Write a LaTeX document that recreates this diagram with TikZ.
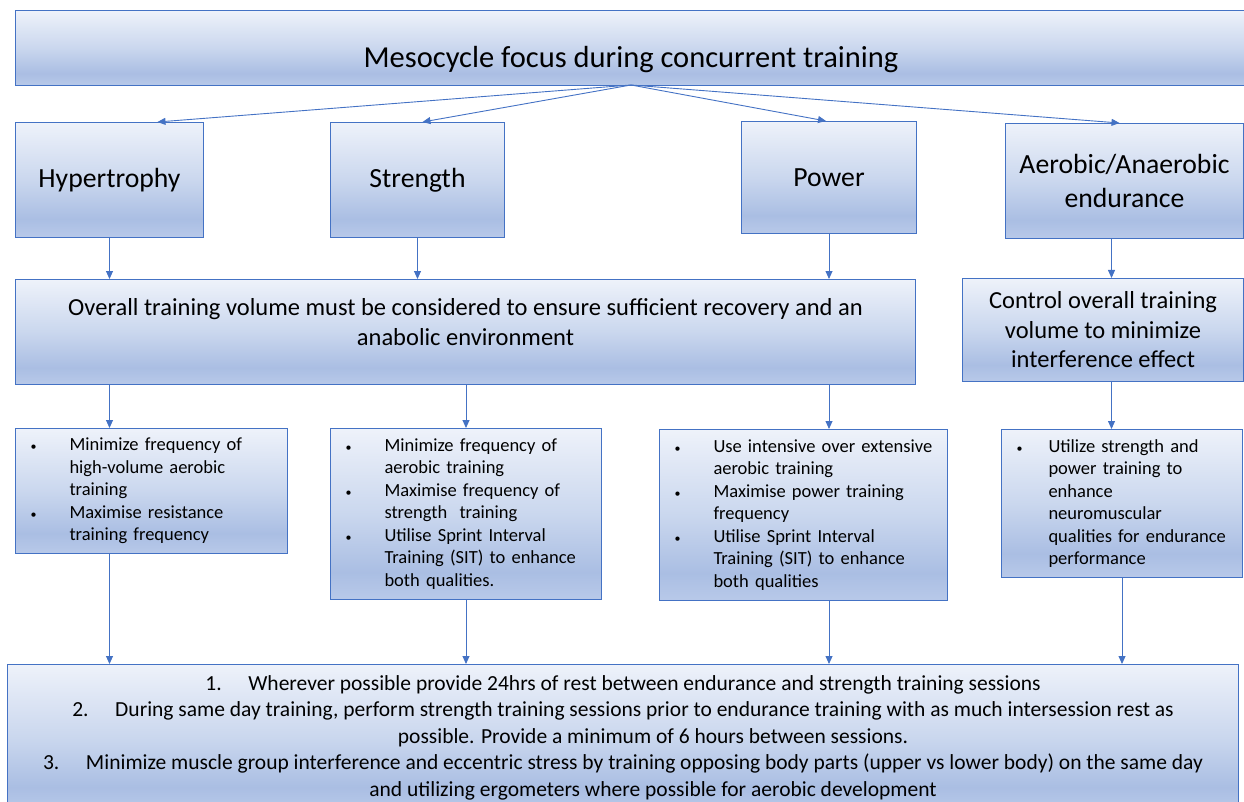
\documentclass[tikz,border=0pt]{standalone}
\usepackage{fontspec}
\setmainfont{Carlito}
\usetikzlibrary{arrows.meta}
\definecolor{mesoedge}{RGB}{68,114,196}
\definecolor{mesolight}{RGB}{238,242,250}
\definecolor{mesomid}{RGB}{202,215,238}
\definecolor{mesodark}{RGB}{170,190,227}
\definecolor{mesofoot}{RGB}{184,201,233}
\pgfdeclareverticalshading{mesoshade}{100bp}{color(0bp)=(mesofoot); color(25bp)=(mesofoot);
  color(33bp)=(mesodark); color(50bp)=(mesomid); color(75bp)=(mesolight); color(100bp)=(mesolight)}
\newcommand{\bul}[1][40pt]{\makebox[#1][l]{\hspace*{1pt}{\fontsize{12}{12}\selectfont\textbullet}}}
\newcommand{\cont}[1][40pt]{\hspace*{#1}}

\begin{document}
\begin{tikzpicture}[x=1pt, y=-1pt,
    box/.style={draw=mesoedge, line width=1pt, shading=mesoshade, anchor=north west,
      inner sep=0pt, align=center, text=black},
    listbox/.style={box, align=left, inner xsep=14pt, font=\fontsize{18.5}{22.5}\selectfont},
    link/.style={draw=mesoedge, line width=0.9pt, -{Triangle[length=8pt,width=7pt]}}]
    \useasboundingbox (0,0) rectangle (1244,802);
    % top and the four aims
    \node[box, minimum width=1237pt, text height=56.7pt, text depth=18.3pt,
        font=\fontsize{30.5}{37}\selectfont] (top) at (15,10)
        {\hspace*{-6pt}Mesocycle focus during concurrent training};
    \node[box, minimum width=188pt, minimum height=115pt, font=\fontsize{27.7}{34}\selectfont]
        (hyp) at (15,122) {Hypertrophy};
    \node[box, minimum width=174pt, minimum height=115pt, font=\fontsize{27.7}{34}\selectfont]
        (str) at (330,122) {Strength};
    \node[box, minimum width=175pt, minimum height=112pt, font=\fontsize{27.7}{34}\selectfont]
        (pow) at (741,121) {Power};
    \node[box, minimum width=238pt, minimum height=115pt, font=\fontsize{27.7}{34}\selectfont]
        (aer) at (1005,123) {Aerobic/Anaerobic\\endurance};
    % volume
    \node[box, minimum width=900pt, minimum height=105pt, font=\fontsize{24.5}{30}\selectfont]
        (vol) at (15,279) {Overall training volume must be considered to ensure sufficient recovery and an\\
        anabolic environment\\[-10pt]\mbox{}};
    \node[box, minimum width=281pt, minimum height=103pt, font=\fontsize{24.5}{29.5}\selectfont]
        (ctl) at (962,278) {Control overall training\\volume to minimize\\interference effect};
    % bullet lists
    \node[listbox, text width=244pt, minimum height=125pt] (bulA) at (15,428)
        {\bul Minimize frequency of\\ \cont high-volume aerobic\\ \cont training\\
         \bul Maximise resistance\\ \cont training frequency};
    \node[listbox, text width=243pt, minimum height=171pt] (bulB) at (330,428)
        {\bul Minimize frequency of\\ \cont aerobic training\\
         \bul Maximise frequency of\\ \cont strength\ \ training\\
         \bul Utilise Sprint Interval\\ \cont Training (SIT) to enhance\\ \cont both qualities.};
    \node[listbox, text width=260pt, minimum height=171pt] (bulC) at (659,429)
        {\bul Use intensive over extensive\\ \cont aerobic training\\
         \bul Maximise power training\\ \cont frequency\\
         \bul Utilise Sprint Interval\\ \cont Training (SIT) to enhance\\ \cont both qualities};
    \node[listbox, text width=213pt, minimum height=148pt] (bulD) at (1001,429)
        {\bul[33pt]Utilize strength and\\ \cont[33pt]power training to\\ \cont[33pt]enhance\\
         \cont[33pt]neuromuscular\\ \cont[33pt]qualities for endurance\\ \cont[33pt]performance};
    % rules
    \node[box, minimum width=1231pt, minimum height=146pt, font=\fontsize{21.5}{26.5}\selectfont]
        (rules) at (7,664)
        {\makebox[43pt][l]{1.}Wherever possible provide 24hrs of rest between endurance and strength training sessions\\
         \makebox[43pt][l]{2.}During same day training, perform strength training sessions prior to endurance training with as much intersession rest as\\
         \hspace*{60pt}possible. Provide a minimum of 6 hours between sessions.\\
         \makebox[43pt][l]{3.}Minimize muscle group interference and eccentric stress by training opposing body parts (upper vs lower body) on the same day\\
         \hspace*{60pt}and utilizing ergometers where possible for aerobic development};
    % connectors
    \coordinate (hub) at (631,85);
    \draw[link] (hub) -- ([xshift=48pt]hyp.north);
    \draw[link] (hub) -- ([xshift=5pt]str.north);
    \draw[link] (hub) -- ([xshift=-3pt]pow.north);
    \draw[link] (hub) -- ([xshift=-5pt]aer.north);
    \foreach \a in {hyp,str,pow} {
        \draw[link] (\a.south) -- (\a.south |- vol.north);
    }
    \coordinate (aerx) at ([xshift=-13pt]aer.south);
    \draw[link] (aerx) -- (aerx |- ctl.north);
    \draw[link] (hyp.south |- vol.south) -- (hyp.south |- bulA.north);
    \draw[link] (bulB.north |- vol.south) -- (bulB.north);
    \draw[link] (pow.south |- vol.south) -- (pow.south |- bulC.north);
    \draw[link] (aerx |- ctl.south) -- (aerx |- bulD.north);
    \draw[link] (hyp.south |- bulA.south) -- (hyp.south |- rules.north);
    \draw[link] (bulB.south) -- (bulB.south |- rules.north);
    \draw[link] (pow.south |- bulC.south) -- (pow.south |- rules.north);
    \draw[link] (bulD.south) -- (bulD.south |- rules.north);
\end{tikzpicture}
\end{document}
